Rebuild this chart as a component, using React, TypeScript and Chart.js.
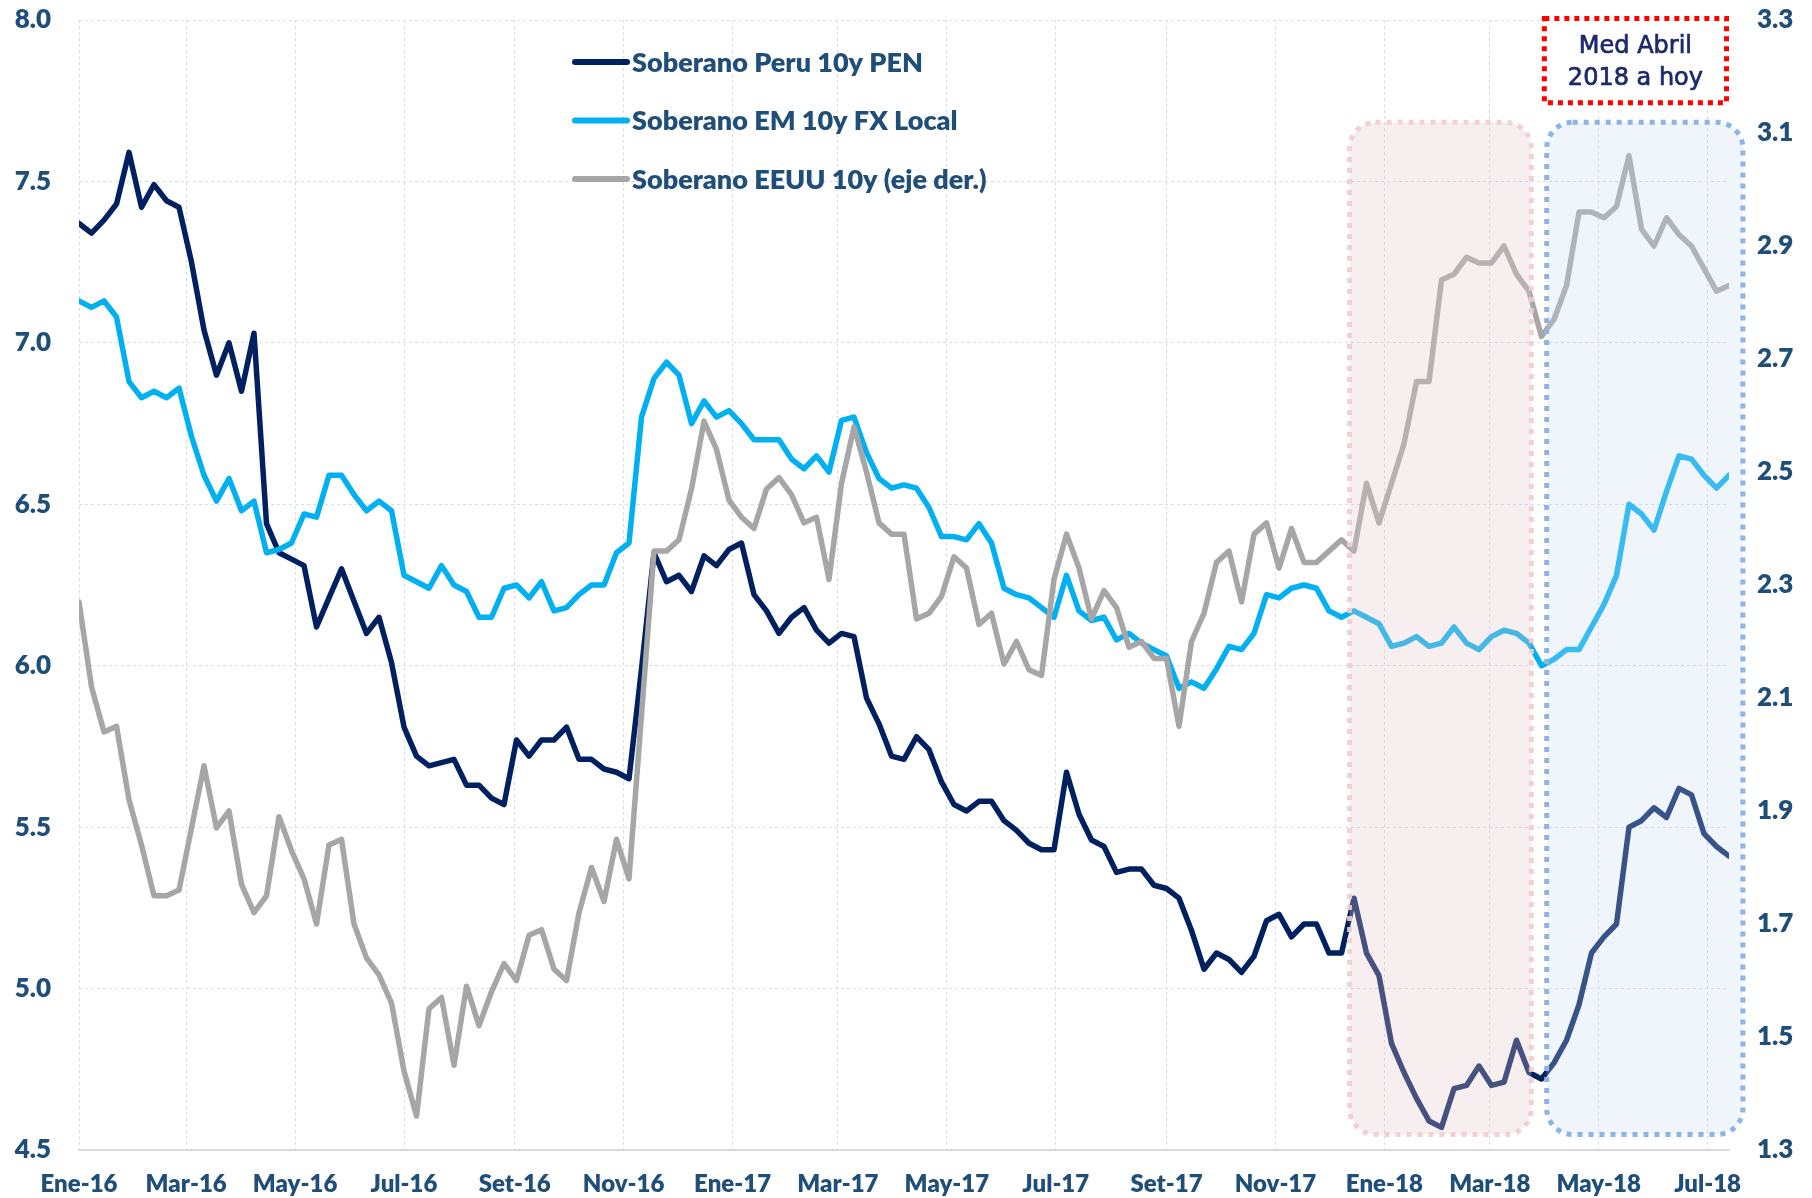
import React, { useEffect, useRef } from "react";
import { Chart, registerables } from "chart.js";

Chart.register(...registerables);

// Weekly observations starting Fri 01-Ene-2016 (x = days since 01-Ene-2016)
const WEEK_STEP_DAYS = 7;
const X_MAX_DAY = 924;

const seriesNames = [
  "Soberano Peru 10y PEN",
  "Soberano EM 10y FX Local",
  "Soberano EEUU 10y (eje der.)",
];

const peru10y = [
  7.37, 7.34, 7.38, 7.43, 7.59, 7.42, 7.49, 7.44, 7.42, 7.25,
  7.04, 6.90, 7.00, 6.85, 7.03, 6.44, 6.35, 6.33, 6.31, 6.12,
  6.21, 6.30, 6.20, 6.10, 6.15, 6.01, 5.81, 5.72, 5.69, 5.70,
  5.71, 5.63, 5.63, 5.59, 5.57, 5.77, 5.72, 5.77, 5.77, 5.81,
  5.71, 5.71, 5.68, 5.67, 5.65, 5.99, 6.35, 6.26, 6.28, 6.23,
  6.34, 6.31, 6.36, 6.38, 6.22, 6.17, 6.10, 6.15, 6.18, 6.11,
  6.07, 6.10, 6.09, 5.90, 5.82, 5.72, 5.71, 5.78, 5.74, 5.64,
  5.57, 5.55, 5.58, 5.58, 5.52, 5.49, 5.45, 5.43, 5.43, 5.67,
  5.54, 5.46, 5.44, 5.36, 5.37, 5.37, 5.32, 5.31, 5.28, 5.18,
  5.06, 5.11, 5.09, 5.05, 5.10, 5.21, 5.23, 5.16, 5.20, 5.20,
  5.11, 5.11, 5.28, 5.11, 5.04, 4.83, 4.74, 4.66, 4.59, 4.57,
  4.69, 4.70, 4.76, 4.70, 4.71, 4.84, 4.74, 4.72, 4.77, 4.84,
  4.95, 5.11, 5.16, 5.20, 5.50, 5.52, 5.56, 5.53, 5.62, 5.60,
  5.48, 5.44, 5.41,
];

const em10y = [
  7.13, 7.11, 7.13, 7.08, 6.88, 6.83, 6.85, 6.83, 6.86, 6.71,
  6.59, 6.51, 6.58, 6.48, 6.51, 6.35, 6.36, 6.38, 6.47, 6.46,
  6.59, 6.59, 6.53, 6.48, 6.51, 6.48, 6.28, 6.26, 6.24, 6.31,
  6.25, 6.23, 6.15, 6.15, 6.24, 6.25, 6.21, 6.26, 6.17, 6.18,
  6.22, 6.25, 6.25, 6.35, 6.38, 6.77, 6.89, 6.94, 6.90, 6.75,
  6.82, 6.77, 6.79, 6.75, 6.70, 6.70, 6.70, 6.64, 6.61, 6.65,
  6.60, 6.76, 6.77, 6.66, 6.58, 6.55, 6.56, 6.55, 6.49, 6.40,
  6.40, 6.39, 6.44, 6.38, 6.24, 6.22, 6.21, 6.18, 6.15, 6.28,
  6.17, 6.14, 6.15, 6.08, 6.10, 6.07, 6.05, 6.03, 5.93, 5.95,
  5.93, 5.99, 6.06, 6.05, 6.10, 6.22, 6.21, 6.24, 6.25, 6.24,
  6.17, 6.15, 6.17, 6.15, 6.13, 6.06, 6.07, 6.09, 6.06, 6.07,
  6.12, 6.07, 6.05, 6.09, 6.11, 6.10, 6.07, 6.00, 6.02, 6.05,
  6.05, 6.12, 6.19, 6.28, 6.50, 6.47, 6.42, 6.54, 6.65, 6.64,
  6.59, 6.55, 6.59,
];

const us10y = [
  2.27, 2.12, 2.04, 2.05, 1.92, 1.84, 1.75, 1.75, 1.76, 1.87,
  1.98, 1.87, 1.90, 1.77, 1.72, 1.75, 1.89, 1.83, 1.78, 1.70,
  1.84, 1.85, 1.70, 1.64, 1.61, 1.56, 1.44, 1.36, 1.55, 1.57,
  1.45, 1.59, 1.52, 1.58, 1.63, 1.60, 1.68, 1.69, 1.62, 1.60,
  1.72, 1.80, 1.74, 1.85, 1.78, 2.07, 2.36, 2.36, 2.38, 2.47,
  2.59, 2.54, 2.45, 2.42, 2.40, 2.47, 2.49, 2.46, 2.41, 2.42,
  2.31, 2.48, 2.58, 2.50, 2.41, 2.39, 2.39, 2.24, 2.25, 2.28,
  2.35, 2.33, 2.23, 2.25, 2.16, 2.20, 2.15, 2.14, 2.31, 2.39,
  2.33, 2.24, 2.29, 2.26, 2.19, 2.20, 2.17, 2.17, 2.05, 2.20,
  2.25, 2.34, 2.36, 2.27, 2.39, 2.41, 2.33, 2.40, 2.34, 2.34,
  2.36, 2.38, 2.36, 2.48, 2.41, 2.48, 2.55, 2.66, 2.66, 2.84,
  2.85, 2.88, 2.87, 2.87, 2.90, 2.85, 2.82, 2.74, 2.77, 2.83,
  2.96, 2.96, 2.95, 2.97, 3.06, 2.93, 2.90, 2.95, 2.92, 2.90,
  2.86, 2.82, 2.83,
];

const tickDays = [0, 60, 121, 182, 244, 305, 366, 425, 486, 547, 609, 670, 731, 790, 851, 912];
const tickLabels = [
  "Ene-16", "Mar-16", "May-16", "Jul-16", "Set-16", "Nov-16",
  "Ene-17", "Mar-17", "May-17", "Jul-17", "Set-17", "Nov-17",
  "Ene-18", "Mar-18", "May-18", "Jul-18",
];
const leftTicks = [4.5, 5.0, 5.5, 6.0, 6.5, 7.0, 7.5, 8.0];
const rightTicks = [1.3, 1.5, 1.7, 1.9, 2.1, 2.3, 2.5, 2.7, 2.9, 3.1, 3.3];

const noteLines = ["Med Abril", "2018 a hoy"];

// Shaded periods (x in days since 01-Ene-2016, y on left axis)
const pinkPeriod = { from: 711.5, to: 813.3, low: 4.548, high: 7.683 };
const bluePeriod = { from: 821.9, to: 931.8, low: 4.548, high: 7.683 };
const notePeriod = { from: 820.6, to: 922.6, low: 7.744, high: 8.005 };

const COLORS = ["#002060", "#00b0f0", "#a6a6a6"];
const TEXT = "#1f4e79";
const GRID = "#d3ddef";
const FONT = "Lato, 'Noto Sans', sans-serif";
const WEIGHT = "800";

function roundRectPath(ctx: CanvasRenderingContext2D, x0: number, y0: number, x1: number, y1: number, r: number) {
  ctx.beginPath();
  ctx.moveTo(x0 + r, y0);
  ctx.lineTo(x1 - r, y0);
  ctx.arcTo(x1, y0, x1, y0 + r, r);
  ctx.lineTo(x1, y1 - r);
  ctx.arcTo(x1, y1, x1 - r, y1, r);
  ctx.lineTo(x0 + r, y1);
  ctx.arcTo(x0, y1, x0, y1 - r, r);
  ctx.lineTo(x0, y0 + r);
  ctx.arcTo(x0, y0, x0 + r, y0, r);
  ctx.closePath();
}

const overlayPlugin = {
  id: "overlays",
  afterDatasetsDraw(chart: any) {
    const { ctx } = chart;
    const x = chart.scales.x;
    const y = chart.scales.y;
    const boxes = [
      { p: pinkPeriod, fill: "rgba(230,198,202,0.30)", stroke: "rgba(240,205,205,0.9)" },
      { p: bluePeriod, fill: "rgba(200,215,240,0.28)", stroke: "#8db4e2" },
    ];
    boxes.forEach(({ p, fill, stroke }) => {
      const x0 = x.getPixelForValue(p.from);
      const x1 = x.getPixelForValue(p.to);
      const y0 = y.getPixelForValue(p.high);
      const y1 = y.getPixelForValue(p.low);
      ctx.save();
      roundRectPath(ctx, x0, y0, x1, y1, 26);
      ctx.fillStyle = fill;
      ctx.fill();
      ctx.setLineDash([5, 6]);
      ctx.lineWidth = 5;
      ctx.strokeStyle = stroke;
      ctx.stroke();
      ctx.restore();
    });
  },
  afterDraw(chart: any) {
    const { ctx } = chart;
    const x = chart.scales.x;
    const y = chart.scales.y;
    // legend
    ctx.save();
    seriesNames.forEach((name, i) => {
      const ly = 62 + i * 58.5;
      ctx.beginPath();
      ctx.lineCap = "round";
      ctx.lineWidth = 6;
      ctx.strokeStyle = COLORS[i];
      ctx.moveTo(575, ly);
      ctx.lineTo(627, ly);
      ctx.stroke();
      ctx.fillStyle = TEXT;
      ctx.font = `${WEIGHT} 27px ${FONT}`;
      ctx.textBaseline = "middle";
      ctx.textAlign = "left";
      ctx.fillText(name, 632, ly + 1);
    });
    ctx.restore();
    // note box
    const nx0 = x.getPixelForValue(notePeriod.from);
    const nx1 = x.getPixelForValue(notePeriod.to);
    const ny0 = y.getPixelForValue(notePeriod.high);
    const ny1 = y.getPixelForValue(notePeriod.low);
    ctx.save();
    ctx.fillStyle = "#ffffff";
    ctx.fillRect(nx0, ny0, nx1 - nx0, ny1 - ny0);
    ctx.setLineDash([5, 5]);
    ctx.lineWidth = 5;
    ctx.strokeStyle = "#ff0000";
    ctx.strokeRect(nx0, ny0, nx1 - nx0, ny1 - ny0);
    ctx.fillStyle = "#1c2a6b";
    ctx.strokeStyle = "#1c2a6b";
    ctx.setLineDash([]);
    ctx.lineWidth = 0.7;
    ctx.font = `24px 'DejaVu Sans', sans-serif`;
    ctx.textAlign = "center";
    ctx.textBaseline = "middle";
    const cx = (nx0 + nx1) / 2;
    const cy = (ny0 + ny1) / 2;
    ctx.fillText(noteLines[0], cx, cy - 14);
    ctx.strokeText(noteLines[0], cx, cy - 14);
    ctx.fillText(noteLines[1], cx, cy + 18);
    ctx.strokeText(noteLines[1], cx, cy + 18);
    ctx.restore();
  },
};

export default function App() {
  const ref = useRef<HTMLCanvasElement | null>(null);

  useEffect(() => {
    if (!ref.current) return;
    const toPoints = (arr: number[]) => arr.map((v, i) => ({ x: i * WEEK_STEP_DAYS, y: v }));
    const xFont = { family: FONT, size: 24, weight: WEIGHT };
    const yFont = { family: FONT, size: 26, weight: WEIGHT };
    const noEdgePadding = (axis: any) => {
      axis.paddingTop = 0;
      axis.paddingBottom = 0;
    };
    const chart = new Chart(ref.current, {
      type: "line",
      data: {
        datasets: [
          { label: seriesNames[0], data: toPoints(peru10y), yAxisID: "y", borderColor: COLORS[0], order: 3 },
          { label: seriesNames[1], data: toPoints(em10y), yAxisID: "y", borderColor: COLORS[1], order: 2 },
          { label: seriesNames[2], data: toPoints(us10y), yAxisID: "y1", borderColor: COLORS[2], order: 1 },
        ].map((d) => ({
          ...d,
          borderWidth: 5.5,
          pointRadius: 0,
          tension: 0,
          fill: false,
          borderJoinStyle: "round" as const,
          borderCapStyle: "round" as const,
        })),
      },
      options: {
        animation: false,
        responsive: true,
        maintainAspectRatio: false,
        devicePixelRatio: 1,
        layout: { padding: { top: 20, left: 0, right: 0, bottom: 0 } },
        plugins: { legend: { display: false }, tooltip: { enabled: false } },
        scales: {
          x: {
            type: "linear",
            min: 0,
            max: X_MAX_DAY,
            afterBuildTicks: (axis: any) => {
              axis.ticks = tickDays.map((v) => ({ value: v }));
            },
            afterFit: (axis: any) => {
              axis.height = 48;
            },
            grid: { color: GRID, lineWidth: 1, drawTicks: false },
            border: { display: true, color: "#d9d9d9", width: 2, dash: [3, 3] },
            ticks: {
              autoSkip: false,
              maxRotation: 0,
              minRotation: 0,
              padding: 20,
              color: TEXT,
              font: xFont,
              callback: (_v: any, i: number) => tickLabels[i],
            },
          },
          y: {
            position: "left",
            min: 4.5,
            max: 8.0,
            afterBuildTicks: (axis: any) => {
              axis.ticks = leftTicks.map((v) => ({ value: v }));
            },
            afterFit: (axis: any) => {
              axis.width = 79;
              noEdgePadding(axis);
            },
            grid: { color: GRID, lineWidth: 1, drawTicks: false },
            border: { display: false, dash: [3, 3] },
            ticks: {
              padding: 28,
              color: TEXT,
              font: yFont,
              callback: (v: any) => Number(v).toFixed(1),
            },
          },
          y1: {
            position: "right",
            min: 1.3,
            max: 3.3,
            afterBuildTicks: (axis: any) => {
              axis.ticks = rightTicks.map((v) => ({ value: v }));
            },
            afterFit: (axis: any) => {
              axis.width = 83;
              noEdgePadding(axis);
            },
            grid: { display: false, drawTicks: false },
            border: { display: false },
            ticks: {
              padding: 28,
              color: TEXT,
              font: yFont,
              callback: (v: any) => Number(v).toFixed(1),
            },
          },
        },
      },
      plugins: [overlayPlugin],
    } as any);
    return () => chart.destroy();
  }, []);

  return (
    <div style={{ position: "absolute", left: 0, top: 0, width: 1812, height: 1198, background: "#ffffff" }}>
      <canvas ref={ref} />
    </div>
  );
}
